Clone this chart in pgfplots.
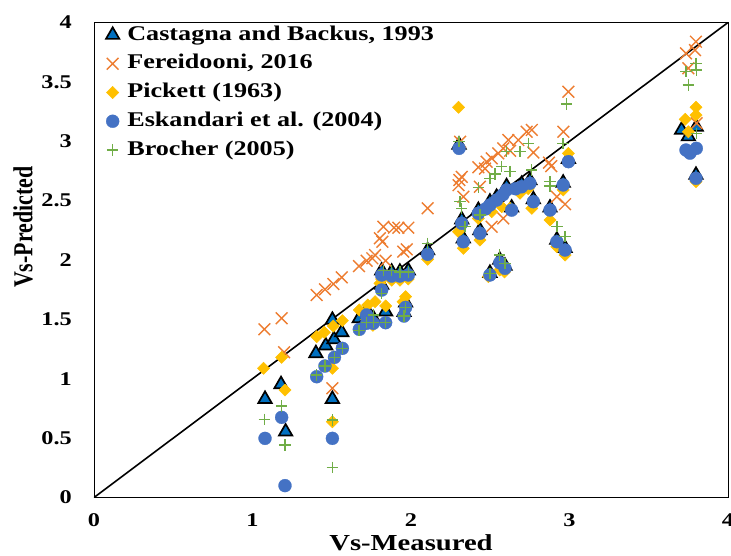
\documentclass[border=0pt]{standalone}
\usepackage{fontspec}
\setmainfont[FakeStretch=1.25]{Liberation Serif}
\newfontfamily\ylabfont{Liberation Serif}
\usepackage{graphicx}
\usepackage{pgfplots}
\pgfplotsset{compat=1.18}
\definecolor{cbBlue}{HTML}{0070C0}
\definecolor{cOrange}{HTML}{ED7D31}
\definecolor{cGold}{HTML}{FFC000}
\definecolor{cBlue}{HTML}{4472C4}
\definecolor{cGreen}{HTML}{70AD47}
\begin{document}
\begin{tikzpicture}
\useasboundingbox (-94bp,-58.5bp) rectangle (637bp,497.5bp);
\begin{axis}[
  scale only axis, width=634bp, height=475bp,
  xmin=0, xmax=4, ymin=0, ymax=4,
  xtick={0,1,2,3,4},
  ytick={0,0.5,1,1.5,2,2.5,3,3.5,4},
  yticklabels={0,0.5,1,1.5,2,2.5,3,3.5,4},
  xticklabels={0,1,2,3,4},
  major tick length=0pt,
  axis line style={line width=0.8bp},
  tick label style={font=\fontsize{19.5}{20}\selectfont\bfseries},
  yticklabel style={inner sep=0pt, anchor=east, xshift=-22bp},
  xticklabel style={inner sep=0pt, anchor=north, yshift=-16bp},
  xlabel={Vs-Measured},
  xlabel style={at={(axis description cs:0.5,0)}, anchor=north, inner sep=0pt, yshift=-37bp, font=\fontsize{23}{24}\selectfont\bfseries},
  ylabel={\scalebox{1}[1.25]{\ylabfont\bfseries\fontsize{22}{22}\selectfont Vs-Predicted}},
  ylabel style={at={(axis description cs:-0.112,0.569)}, anchor=center, inner sep=0pt},
  legend image code/.code={\draw[mark repeat=2,mark phase=2,#1] plot coordinates {(0bp,0bp) (7bp,0bp) (14bp,0bp)};},
  legend cell align=left,
  legend style={draw=none, fill=none, at={(axis description cs:0,1)}, anchor=north west,
    xshift=12bp, yshift=-3bp, inner sep=0pt, outer sep=0pt,
    font=\fontsize{21}{21}\selectfont\bfseries,
    /tikz/row sep=9.75bp, /tikz/column sep=8bp,
    nodes={inner sep=0pt, text height=14.5bp, text depth=4.5bp}},
]
\addplot[only marks, mark=triangle*, mark size=7.7bp, mark options={fill=cbBlue, draw=black, line width=1.7bp}] coordinates {
(1.079,0.829)(1.18,0.953)(1.209,0.554)(1.504,0.829)
(1.40,1.214)(1.462,1.279)(1.514,1.332)(1.563,1.391)(1.504,1.495)(1.674,1.509)
(1.72,1.51)(1.762,1.51)(1.84,1.565)(1.72,1.58)(1.815,1.79)(1.815,1.91)(1.878,1.90)(1.93,1.90)(1.983,1.91)(1.956,1.56)(1.966,1.64)
(2.105,2.08)(2.303,2.97)(2.32,2.34)(2.33,2.18)(2.425,2.42)(2.435,2.25)(2.498,2.49)(2.54,2.53)(2.603,2.62)(2.698,2.64)(2.75,2.67)(2.772,2.51)(2.877,2.44)(2.92,2.17)(2.972,2.10)(2.96,2.65)(2.993,2.85)(2.56,2.0)(2.593,1.95)(2.498,1.89)(2.635,2.44)
(3.707,3.095)(3.75,3.04)(3.8,3.12)(3.798,2.716)
};
\addlegendentry{Castagna and Backus, 1993}
\addplot[only marks, mark=x, mark size=8.3bp, color=cOrange, mark options={line width=1.4bp}] coordinates {
(1.075,1.416)(1.184,1.509)(1.199,1.223)(1.504,0.92)
(1.405,1.705)(1.457,1.753)(1.51,1.798)(1.563,1.854)(1.672,1.949)(1.72,1.994)(1.756,2.014)(1.773,2.042)(1.84,1.994)(1.804,2.183)(1.819,2.154)(1.825,2.28)(1.893,2.272)(1.92,2.272)(1.983,2.272)(1.951,2.07)(1.973,2.09)
(2.105,2.435)(2.30,2.63)(2.305,2.674)(2.32,2.70)(2.33,2.533)(2.31,2.996)(2.425,2.781)(2.435,2.617)(2.467,2.77)(2.477,2.828)(2.509,2.856)(2.551,2.898)(2.582,2.94)(2.614,3.01)(2.625,2.92)(2.677,3.01)(2.73,3.08)(2.762,3.095)(2.772,2.905)(2.509,2.28)(2.582,2.35)(2.87,2.82)(2.885,2.79)(2.92,2.533)(2.972,2.47)(2.962,3.08)(2.993,3.417)
(3.735,3.74)(3.75,3.614)(3.792,3.768)(3.798,3.838)(3.802,3.151)
};
\addlegendentry{Fereidooni, 2016}
\addplot[only marks, mark=square*, mark size=4.3bp, mark options={rotate=45, fill=cGold, draw=cGold, line width=0.5bp}] coordinates {
(1.07,1.088)(1.184,1.18)(1.205,0.905)(1.504,0.638)(1.504,1.088)
(1.405,1.354)(1.453,1.391)(1.51,1.444)(1.567,1.489)(1.674,1.579)(1.727,1.621)(1.773,1.649)(1.84,1.613)(1.804,1.804)(1.815,1.84)(1.878,1.83)(1.93,1.83)(1.983,1.84)(1.95,1.649)(1.966,1.691)(1.72,1.50)(1.76,1.45)
(2.105,2.006)(2.30,3.286)(2.30,2.238)(2.33,2.098)(2.425,2.35)(2.435,2.168)(2.509,2.407)(2.572,2.449)(2.625,2.435)(2.688,2.562)(2.74,2.60)(2.762,2.435)(2.877,2.337)(2.92,2.112)(2.972,2.042)(2.993,2.898)(2.96,2.59)(2.56,1.916)(2.59,1.90)(2.488,1.86)
(3.73,3.185)(3.75,3.08)(3.798,3.22)(3.798,3.286)(3.798,2.66)
};
\addlegendentry{Pickett (1963)}
\addplot[only marks, mark=*, mark size=6.5bp, mark options={fill=cBlue, draw=cBlue, line width=0.3bp}] coordinates {
(1.079,0.498)(1.184,0.675)(1.205,0.10)(1.504,0.498)
(1.405,1.017)(1.457,1.107)(1.517,1.18)(1.567,1.256)(1.674,1.416)(1.72,1.467)(1.762,1.467)(1.84,1.472)(1.72,1.537)(1.815,1.747)(1.815,1.874)(1.878,1.865)(1.93,1.865)(1.983,1.874)(1.956,1.528)(1.966,1.601)
(2.105,2.048)(2.303,2.94)(2.32,2.309)(2.33,2.154)(2.425,2.393)(2.435,2.225)(2.47,2.43)(2.498,2.463)(2.54,2.505)(2.58,2.55)(2.603,2.59)(2.635,2.42)(2.66,2.60)(2.698,2.617)(2.75,2.646)(2.772,2.491)(2.877,2.421)(2.92,2.154)(2.972,2.084)(2.96,2.632)(2.993,2.828)(2.56,1.977)(2.593,1.93)(2.498,1.874)
(3.735,2.926)(3.76,2.90)(3.80,2.94)(3.798,2.688)
};
\addlegendentry{Eskandari et al. (2004)}
\addplot[only marks, mark=+, mark size=5.7bp, color=cGreen, mark options={line width=1.4bp}] coordinates {
(1.075,0.658)(1.184,0.77)(1.205,0.442)(1.504,0.653)(1.504,0.254)
(1.405,1.03)(1.457,1.107)(1.517,1.18)(1.567,1.256)(1.672,1.405)(1.72,1.472)(1.762,1.472)(1.84,1.472)(1.762,1.537)(1.815,1.72)(1.825,1.91)(1.878,1.91)(1.93,1.90)(1.983,1.90)(1.956,1.53)(1.966,1.60)
(2.105,2.14)(2.303,2.996)(2.309,2.491)(2.32,2.435)(2.34,2.28)(2.425,2.612)(2.435,2.379)(2.498,2.688)(2.53,2.724)(2.572,2.786)(2.603,2.912)(2.625,2.744)(2.688,2.912)(2.74,2.983)(2.762,2.758)(2.877,2.659)(2.877,2.623)(2.92,2.28)(2.972,2.196)(2.96,2.983)(2.982,3.314)(2.56,2.042)(2.593,1.972)(2.498,1.888)
(3.735,3.586)(3.75,3.474)(3.798,3.656)(3.80,3.60)(3.80,3.067)
};
\addlegendentry{Brocher (2005)}
\addplot[black, line width=1.6bp, forget plot] coordinates {(0,0) (4,4)};
\end{axis}
\end{tikzpicture}
\end{document}
